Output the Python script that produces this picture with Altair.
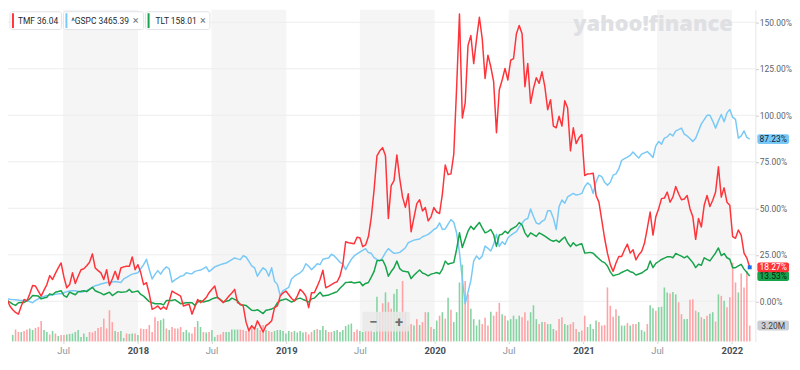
import altair as alt
import pandas as pd

# ---------------- data (weekly closes, % change since first week) ----------------
START = "2017-02-06"

tmf = [
    3.7, 1.0, -2.5, -4.5, -6.0, -6.9, -2.5, 1.0, 0.2, 4.0,
    8.5, 8.2, 5.5, 2.8, 6.0, 9.0, 13.8, 11.7, 15.0, 18.0,
    20.6, 13.0, 7.3, 9.0, 15.3, 9.6, 13.5, 17.0, 17.5, 19.1,
    21.0, 25.5, 17.9, 16.5, 15.3, 11.7, 17.0, 8.5, 12.0, 16.1,
    11.7, 17.9, 18.5, 18.8, 18.8, 23.8, 17.0, 19.7, 15.3, 9.0,
    10.0, 4.0, -4.3, -3.5, -2.5, -4.3, -3.0, -4.3, 0.2, 5.5,
    4.5, 3.7, 2.8, -2.5, -2.0, -1.6, -6.9, -3.0, 1.0, -0.7,
    0.5, 2.0, 4.6, 6.5, 8.2, 2.0, 0.7, -0.7, 1.0, 2.8,
    4.5, 6.4, -0.7, -1.5, -2.5, -11.2, -15.8, -13.1, -14.9, -10.5,
    -13.5, -16.5, -13.1, -12.0, -10.5, -3.4, -2.5, 2.8, 4.5, 5.5,
    3.5, 1.5, 0.2, 2.8, 6.4, 5.0, 2.8, -3.4, 4.6, 4.6,
    8.0, 11.7, 16.7, 7.3, 8.0, 9.0, 9.9, 10.5, 13.5, 19.7,
    32.0, 31.5, 31.2, 30.9, 34.4, 34.2, 29.4, 30.3, 34.8, 45.0,
    60.0, 78.2, 80.9, 82.6, 78.2, 44.5, 62.2, 64.9, 78.7, 66.0,
    56.0, 50.5, 57.8, 37.4, 45.0, 52.5, 54.6, 48.6, 50.4, 43.2,
    45.4, 50.4, 48.0, 47.2, 57.8, 73.3, 68.1, 68.5, 79.1, 115.0,
    154.4, 98.5, 106.5, 137.6, 142.9, 127.8, 141.1, 152.7, 141.1, 119.8,
    132.3, 126.1, 118.1, 90.6, 113.7, 119.0, 125.2, 119.0, 129.6, 130.5,
    143.8, 148.3, 143.8, 115.4, 127.8, 106.5, 114.5, 120.2, 117.2, 123.4,
    115.4, 103.0, 108.4, 94.2, 93.3, 99.5, 94.2, 107.8, 103.9, 80.9,
    93.3, 84.8, 87.9, 89.7, 67.6, 68.5, 68.6, 68.8, 56.9, 53.3,
    43.6, 33.9, 25.9, 19.7, 16.1, 20.6, 24.1, 24.1, 27.7, 30.7,
    25.9, 27.7, 22.3, 25.0, 26.8, 31.2, 39.2, 48.0, 35.6, 45.4,
    49.8, 55.2, 55.5, 58.7, 53.3, 56.0, 61.7, 57.8, 54.6, 55.0,
    56.9, 49.8, 45.4, 33.3, 44.5, 40.0, 51.6, 56.9, 51.0, 54.3,
    58.7, 72.3, 56.0, 61.0, 53.3, 51.6, 34.8, 33.9, 38.3, 35.6,
    25.9, 23.2, 18.27,
]

gspc = [
    1.7, 1.4, 1.1, 0.9, 0.8, 0.6, 0.4, 0.4, 0.4, -0.2,
    -0.8, 0.5, 1.3, 2.2, 2.6, 3.1, 3.3, 3.5, 3.8, 4.0,
    4.0, 4.6, 5.2, 5.5, 5.7, 5.7, 5.3, 4.9, 5.3, 5.7,
    6.6, 7.5, 8.4, 8.8, 9.3, 9.7, 10.1, 10.1, 10.4, 10.7,
    10.4, 10.1, 12.0, 12.9, 13.8, 14.6, 15.0, 15.3, 17.5, 19.7,
    22.6, 17.0, 12.0, 14.5, 16.5, 14.6, 17.0, 18.5, 17.5, 10.3,
    11.5, 12.5, 13.5, 13.8, 15.3, 15.0, 14.8, 16.1, 16.5, 16.8,
    17.6, 18.5, 15.9, 17.2, 18.5, 19.1, 19.7, 20.2, 20.6, 21.5,
    22.4, 23.3, 22.8, 22.4, 24.5, 23.8, 21.5, 19.1, 18.0, 13.5,
    16.0, 18.0, 16.8, 13.5, 18.0, 10.8, 9.1, 3.1, 5.7, 6.6,
    7.5, 12.0, 13.5, 14.5, 15.3, 16.8, 20.2, 18.9, 17.0, 18.5,
    20.2, 19.7, 22.6, 23.0, 23.3, 25.3, 24.4, 22.7, 21.0, 20.0,
    17.0, 20.0, 22.6, 24.4, 25.5, 26.5, 27.4, 28.3, 26.2, 25.8,
    23.5, 22.5, 21.6, 23.5, 26.2, 28.3, 27.0, 25.8, 26.0, 26.3,
    27.5, 28.8, 31.5, 32.2, 32.9, 33.2, 33.5, 34.7, 35.3, 36.0,
    37.2, 38.6, 39.5, 42.2, 38.6, 38.9, 41.5, 43.9, 42.5, 36.7,
    26.2, 12.0, -1.3, 4.9, 11.1, 21.8, 24.4, 22.6, 24.4, 29.7,
    28.5, 27.0, 30.6, 36.0, 29.5, 32.0, 30.5, 34.0, 35.5, 36.5,
    37.5, 40.0, 42.0, 43.9, 44.5, 49.6, 45.6, 42.1, 41.5, 43.0,
    43.9, 48.7, 48.7, 44.7, 38.6, 50.9, 54.5, 52.7, 56.1, 57.1,
    58.0, 57.1, 57.5, 58.0, 61.6, 63.7, 62.5, 58.0, 64.2, 67.8,
    67.0, 64.0, 62.4, 64.0, 67.8, 68.5, 71.3, 75.8, 76.7, 77.5,
    78.5, 80.3, 78.5, 77.0, 79.1, 79.8, 80.5, 79.0, 77.3, 83.6,
    85.9, 84.5, 87.7, 88.4, 90.1, 88.9, 91.6, 92.3, 93.1, 89.9,
    88.9, 87.5, 85.9, 87.7, 91.6, 95.4, 97.7, 100.0, 100.0, 96.9,
    93.1, 97.0, 100.4, 96.5, 101.3, 103.1, 99.0, 97.8, 87.7, 88.9,
    91.6, 88.1, 87.23,
]

tlt = [
    1.3, 0.4, -0.5, -1.5, -2.2, -0.8, -0.7, -0.6, 0.3, 1.3,
    3.1, 3.0, 2.8, 1.3, 1.8, 2.2, 4.0, 3.5, 4.9, 5.3,
    5.7, 3.1, 2.2, 4.9, 4.2, 3.5, 5.2, 5.4, 5.7, 5.2,
    6.4, 7.5, 5.7, 5.0, 4.4, 3.5, 4.2, 4.9, 3.1, 4.1,
    5.2, 4.9, 5.0, 5.2, 6.4, 4.8, 5.2, 5.5, 3.7, 2.8,
    1.3, -0.2, -0.8, -1.3, -1.3, -1.3, -1.9, 0.4, 0.4, 0.4,
    0.9, -0.2, -1.3, -1.0, -0.8, -0.8, -0.8, -2.2, -0.4, 0.4,
    -0.4, 0.0, 0.4, 1.3, 1.8, 2.2, 0.9, -0.4, 0.0, 0.4,
    1.7, 1.0, 0.4, -1.9, -2.0, -2.2, -3.5, -4.8, -5.0, -4.5,
    -5.5, -6.6, -4.8, -4.5, -4.1, -3.4, -0.8, 0.4, 0.8, 1.3,
    0.5, -0.4, 0.4, 1.3, 1.7, 1.0, 0.4, -0.4, 1.3, 1.7,
    3.3, 4.9, 2.8, 3.1, 3.4, 4.0, 4.6, 5.2, 7.0, 8.5,
    10.1, 10.2, 10.4, 9.8, 10.1, 10.4, 8.4, 9.6, 10.1, 13.0,
    16.1, 21.8, 22.0, 22.2, 19.0, 13.5, 16.0, 18.0, 21.6, 17.6,
    16.3, 16.0, 15.8, 12.2, 14.0, 15.5, 16.8, 15.2, 14.6, 13.7,
    14.6, 15.0, 15.5, 14.8, 17.3, 21.6, 19.9, 20.5, 20.8, 28.0,
    36.8, 28.9, 33.3, 37.7, 40.4, 38.6, 40.6, 42.4, 39.5, 36.8,
    37.5, 38.6, 35.9, 29.5, 35.7, 36.0, 37.7, 36.5, 38.6, 39.5,
    40.4, 42.3, 41.0, 36.8, 34.6, 36.8, 35.8, 34.9, 36.8, 36.0,
    35.0, 34.0, 32.9, 32.3, 32.9, 31.8, 33.3, 34.6, 31.5, 29.4,
    31.5, 29.9, 30.5, 31.0, 26.0, 26.1, 26.3, 25.8, 24.3, 22.9,
    21.5, 20.8, 19.0, 15.8, 13.7, 14.2, 14.6, 15.5, 16.2, 16.9,
    15.9, 15.5, 14.1, 14.7, 15.2, 16.3, 17.3, 21.7, 18.1, 20.4,
    21.4, 22.5, 23.2, 23.9, 24.0, 23.4, 25.7, 25.0, 24.3, 23.4,
    24.3, 22.6, 20.8, 18.1, 19.9, 19.4, 23.4, 22.5, 21.7, 23.9,
    26.0, 28.7, 24.6, 25.7, 23.4, 22.6, 18.1, 18.1, 19.0, 19.9,
    17.3, 15.5, 13.53,
]

# weekly TMF volume in millions of shares (first bar = 4th week)
volume = [
    1.3, 2.4, 1.9, 1.9, 2.1, 2.4, 2.6, 2.3, 2.7, 2.9,
    4.1, 2.3, 1.9, 1.4, 2.1, 1.6, 1.1, 1.3, 1.3, 1.4,
    1.5, 1.6, 1.9, 2.3, 0.9, 1.6, 0.9, 1.9, 1.8, 2.1,
    2.7, 2.9, 4.6, 2.6, 6.3, 3.9, 2.1, 1.9, 2.1, 0.7,
    1.6, 1.5, 1.6, 1.6, 1.3, 2.6, 2.5, 2.5, 3.3, 1.9,
    4.9, 4.1, 4.3, 4.6, 2.6, 2.3, 2.9, 2.6, 2.6, 2.9,
    1.9, 2.3, 1.8, 1.6, 2.9, 4.1, 2.9, 1.9, 1.8, 1.9,
    2.3, 0.9, 1.3, 1.4, 1.9, 1.9, 1.9, 2.4, 2.4, 2.4,
    2.4, 2.3, 2.1, 2.6, 2.9, 2.9, 2.7, 2.3, 3.3, 2.3,
    2.1, 1.9, 2.1, 2.3, 2.3, 2.1, 1.6, 2.1, 1.9, 2.1,
    1.8, 2.1, 1.8, 1.9, 1.4, 1.9, 2.3, 2.5, 2.3, 3.1,
    2.3, 1.9, 1.9, 2.1, 2.3, 1.9, 2.3, 3.1, 3.4, 3.6,
    1.9, 2.4, 2.1, 1.9, 2.1, 2.1, 2.2, 1.9, 9.0, 5.9,
    7.7, 9.9, 7.9, 6.6, 9.6, 10.6, 5.9, 12.2, 5.9, 3.2,
    3.5, 3.2, 4.5, 3.3, 3.9, 5.9, 5.9, 2.9, 2.5, 4.2,
    5.2, 5.9, 4.6, 8.8, 6.4, 3.9, 5.9, 11.9, 15.5, 12.2,
    9.5, 6.6, 4.5, 3.2, 4.4, 3.5, 4.8, 3.2, 6.0, 5.2,
    6.0, 7.8, 5.5, 5.2, 4.2, 4.5, 5.2, 4.5, 5.2, 4.9,
    5.9, 4.2, 5.9, 7.3, 4.5, 3.5, 3.9, 3.9, 3.5, 3.5,
    2.5, 2.2, 4.5, 4.9, 3.5, 3.3, 3.5, 3.9, 2.5, 1.9,
    2.2, 5.2, 2.9, 3.5, 2.5, 4.2, 3.9, 3.2, 3.3, 10.9,
    7.2, 5.0, 6.5, 5.2, 3.2, 3.2, 3.7, 3.2, 3.5, 3.5,
    3.9, 2.3, 2.0, 3.5, 7.3, 6.7, 6.2, 6.9, 7.0, 10.9,
    9.9, 9.7, 10.0, 9.5, 7.9, 5.5, 4.5, 4.5, 8.4, 8.5,
    6.2, 5.9, 4.9, 4.5, 5.2, 5.6, 5.9, 4.0, 9.5, 9.2,
    8.2, 6.9, 8.9, 15.9, 11.9, 9.9, 13.7, 10.9, 14.2, 3.2,
]

# G = up week, R = down week
vol_dir = (
    "GRRGRRGGRR" "RGGRGRGRRG" "GGGGGGGRRR" "RRRRRRGRGG" "RGGRGRRRRR"
    "RRGGRGRRRR" "GGGRRGGRGR" "GGRRRGGGGG" "RRRRRRGRRG" "RRGGGGGGRG"
    "GGGRRRGRGG" "GRRGGGGGGG" "RRGGRRRGGR" "RGRRGGGRRG" "RGRGRRGRGG"
    "RGRGRGGGGR" "RGGGGRRRGR" "RRGRGGGGGR" "RRGGGRGRGG" "GRRRGGRRRG"
    "RRGGGGRRRR" "RRRGGGRGRR" "GGGRGGRGGG" "GRGGRRGGRR" "RGRGRGGRGR"
    "GRRRRGRRRR"
)

symbols = ["TMF", "^GSPC", "TLT"]
last_prices = ["36.04", "3465.39", "158.01"]
y_ticks = [0, 25, 50, 75, 100, 125, 150]
band_starts = ["2017-07-01", "2018-07-01", "2019-07-01", "2020-07-01", "2021-07-01"]
band_ends = ["2018-01-01", "2019-01-01", "2020-01-01", "2021-01-01", "2022-01-01"]

n = len(tmf)
assert len(gspc) == n and len(tlt) == n, (len(tmf), len(gspc), len(tlt))
assert len(volume) == len(vol_dir) == n - 3, (len(volume), len(vol_dir))

dates = pd.date_range(START, periods=n, freq="7D").strftime("%Y-%m-%d").tolist()

# ---------------- styling ----------------
W, H = 755, 335
FONT = "Roboto"
C_TMF, C_GSPC, C_TLT = "#ff333a", "#79c9f7", "#16a34a"
C_UP, C_DN = "#86d3a2", "#ffa3a6"

xscale = alt.Scale(
    type="utc",
    domain=[
        alt.DateTime(year=2017, month=2, date=27, hours=14, utc=True),
        alt.DateTime(year=2022, month=2, date=15, hours=17, utc=True),
    ],
)
tick_dates = [alt.DateTime(year=2017, month=7, date=1, utc=True)]
for yr in range(2018, 2022):
    tick_dates.append(alt.DateTime(year=yr, month=1, date=1, utc=True))
    tick_dates.append(alt.DateTime(year=yr, month=7, date=1, utc=True))
tick_dates.append(alt.DateTime(year=2022, month=1, date=1, utc=True))

is_year = "utcmonth(datum.value) == 0"
xaxis = alt.Axis(
    values=tick_dates,
    labelExpr=f"{is_year} ? utcFormat(datum.value, '%Y') : 'Jul'",
    title=None, grid=False, domain=False, ticks=True, tickSize=2, tickColor="#d0d0d0",
    labelFont=FONT, labelFontSize=9.5, labelPadding=2, labelFlush=False,
    labelColor={"condition": {"test": is_year, "value": "#464e56"}, "value": "#8a939b"},
    labelFontWeight={"condition": {"test": is_year, "value": "bold"}, "value": "normal"},
)
X = alt.X("date:T", scale=xscale, axis=xaxis)

yscale = alt.Scale(domain=[-21.55, 156.73], nice=False, zero=False)
yaxis = alt.Axis(
    orient="right", values=y_ticks, labelExpr="format(datum.value, '.2f') + '%'",
    title=None, grid=False, domain=True, domainColor="#e6e6e6", ticks=True, tickSize=3,
    tickColor="#c8c8c8", labelFont=FONT, labelFontSize=8.5, labelColor="#5b636a",
    labelPadding=1,
)

# ---------------- back: half-year bands + grid ----------------
bands = alt.Chart(pd.DataFrame({"start": band_starts, "end": band_ends})).mark_rect(
    color="#f5f5f5"
).encode(
    x=alt.X("start:T", scale=xscale, axis=xaxis), x2="end:T",
    y=alt.value(0), y2=alt.value(H),
)
grid = alt.Chart(pd.DataFrame({"v": y_ticks})).mark_rule(color="#ededed", strokeWidth=1).encode(
    y=alt.Y("v:Q", scale=yscale, axis=yaxis)
)
back = alt.layer(bands, grid)

# ---------------- volume ----------------
vscale = alt.Scale(domain=[0, 67], nice=False, zero=True)
vol_df = pd.DataFrame({"date": dates[3:], "vol": volume, "dir": list(vol_dir)})
vol_bars = alt.Chart(vol_df).mark_bar(width=1.6).encode(
    x=X,
    y=alt.Y("vol:Q", scale=vscale, axis=None),
    color=alt.Color("dir:N", scale=alt.Scale(domain=["G", "R"], range=[C_UP, C_DN]), legend=None),
)
last_vol = pd.DataFrame({"v": [volume[-1]], "label": [f"{volume[-1]:.2f}M"]})
vol_badge = alt.Chart(last_vol).transform_calculate(
    top="datum.v + 1.0", bot="datum.v - 1.0"
).mark_rect(color="#ccd0d4", cornerRadius=2).encode(
    x=alt.value(757), x2=alt.value(789),
    y=alt.Y("top:Q", scale=vscale, axis=None), y2="bot:Q",
)
vol_text = alt.Chart(last_vol).mark_text(
    font=FONT, fontSize=8.5, color="#3c4146", align="center", baseline="middle"
).encode(x=alt.value(773), y=alt.Y("v:Q", scale=vscale, axis=None), text="label:N")
vol_group = alt.layer(vol_bars, vol_badge, vol_text)

# ---------------- front: lines and labels ----------------
line_df = pd.DataFrame({
    "date": dates * 3,
    "pct": tmf + gspc + tlt,
    "sym": [symbols[0]] * n + [symbols[1]] * n + [symbols[2]] * n,
})


def series_line(sym, color):
    return alt.Chart(line_df).transform_filter(alt.datum.sym == sym).mark_line(
        color=color, strokeWidth=1.5, clip=True, strokeJoin="round"
    ).encode(x=X, y=alt.Y("pct:Q", scale=yscale, axis=None))


lines = [series_line("^GSPC", C_GSPC), series_line("TLT", C_TLT), series_line("TMF", C_TMF)]

end_df = pd.DataFrame({
    "v": [gspc[-1], tlt[-1], tmf[-1]],
    "label": [f"{gspc[-1]:.2f}%", f"{tlt[-1]:.2f}%", f"{tmf[-1]:.2f}%"],
    "bg": [C_GSPC, C_TLT, C_TMF],
    "fg": ["#0b2540", "#0d1a12", "#ffffff"],
})
end_rect = alt.Chart(end_df).transform_calculate(
    top="datum.v + 2.6", bot="datum.v - 2.6"
).mark_rect(cornerRadius=2).encode(
    x=alt.value(757), x2=alt.value(789),
    y=alt.Y("top:Q", scale=yscale, axis=None), y2="bot:Q",
    color=alt.Color("bg:N", scale=None),
)
end_text = alt.Chart(end_df).mark_text(
    font=FONT, fontSize=8.5, align="center", baseline="middle"
).encode(
    x=alt.value(773), y=alt.Y("v:Q", scale=yscale, axis=None),
    text="label:N", color=alt.Color("fg:N", scale=None),
)
end_dot = alt.Chart(pd.DataFrame({"date": [dates[-1]], "pct": [tmf[-1]]})).mark_point(
    filled=True, shape="square", size=16, color="#1f6fe8", opacity=1
).encode(x=X, y=alt.Y("pct:Q", scale=yscale, axis=None))

# legend chips (top left)
chip_layout = [(2, 54, 4, 10, None), (56, 137, 58, 64, 129), (139, 204, 141, 149, 197)]
chip_colors = [C_TMF, C_GSPC, C_TLT]
chips = []
for (x0, x1, bx, tx, cx), sym, price, col in zip(chip_layout, symbols, last_prices, chip_colors):
    d = pd.DataFrame({"label": [f"{sym} {price}"]})
    chips.append(alt.Chart(d).mark_rect(
        color="#ffffff", stroke="#e2e4e7", strokeWidth=1, cornerRadius=2
    ).encode(x=alt.value(x0), x2=alt.value(x1), y=alt.value(2), y2=alt.value(20)))
    chips.append(alt.Chart(d).mark_rect(color=col).encode(
        x=alt.value(bx), x2=alt.value(bx + 2), y=alt.value(3.5), y2=alt.value(18.5)))
    chips.append(alt.Chart(d).mark_text(
        font=FONT, fontSize=8.5, color="#232a31", align="left", baseline="middle"
    ).encode(x=alt.value(tx), y=alt.value(11), text="label:N"))
    if cx is not None:
        chips.append(alt.Chart(pd.DataFrame({"label": ["×"]})).mark_text(
            font=FONT, fontSize=11, color="#6e7780", align="center", baseline="middle"
        ).encode(x=alt.value(cx), y=alt.value(11), text="label:N"))

watermark = alt.Chart(pd.DataFrame({"label": ["yahoo!finance"]})).mark_text(
    font="Open Sans", fontSize=22, fontWeight=800, color="#dfe0e3", align="left",
    baseline="middle"
).encode(x=alt.value(571), y=alt.value(14), text="label:N")

zoom_box = [
    alt.Chart(pd.DataFrame({"label": [""]})).mark_rect(
        color="#e9e9e9", opacity=0.85, cornerRadius=2
    ).encode(x=alt.value(358), x2=alt.value(406), y=alt.value(305), y2=alt.value(325)),
    alt.Chart(pd.DataFrame({"label": ["−"]})).mark_text(
        font=FONT, fontSize=15, fontWeight="bold", color="#6f6f6f", align="center", baseline="middle"
    ).encode(x=alt.value(369), y=alt.value(315), text="label:N"),
    alt.Chart(pd.DataFrame({"label": ["+"]})).mark_text(
        font=FONT, fontSize=15, fontWeight="bold", color="#6f6f6f", align="center", baseline="middle"
    ).encode(x=alt.value(395), y=alt.value(315), text="label:N"),
]

front = alt.layer(*lines, end_dot, end_rect, end_text, *chips, watermark, *zoom_box)

chart = alt.layer(back, vol_group, front).resolve_scale(y="independent").properties(
    width=W, height=H,
    padding={"left": 0, "top": 0, "right": 37, "bottom": 16},
    autosize=alt.AutoSizeParams(type="none"),
    background="#ffffff",
).configure_view(strokeWidth=0)

chart.save("out.html", embed_options={"renderer": "svg", "actions": False})
